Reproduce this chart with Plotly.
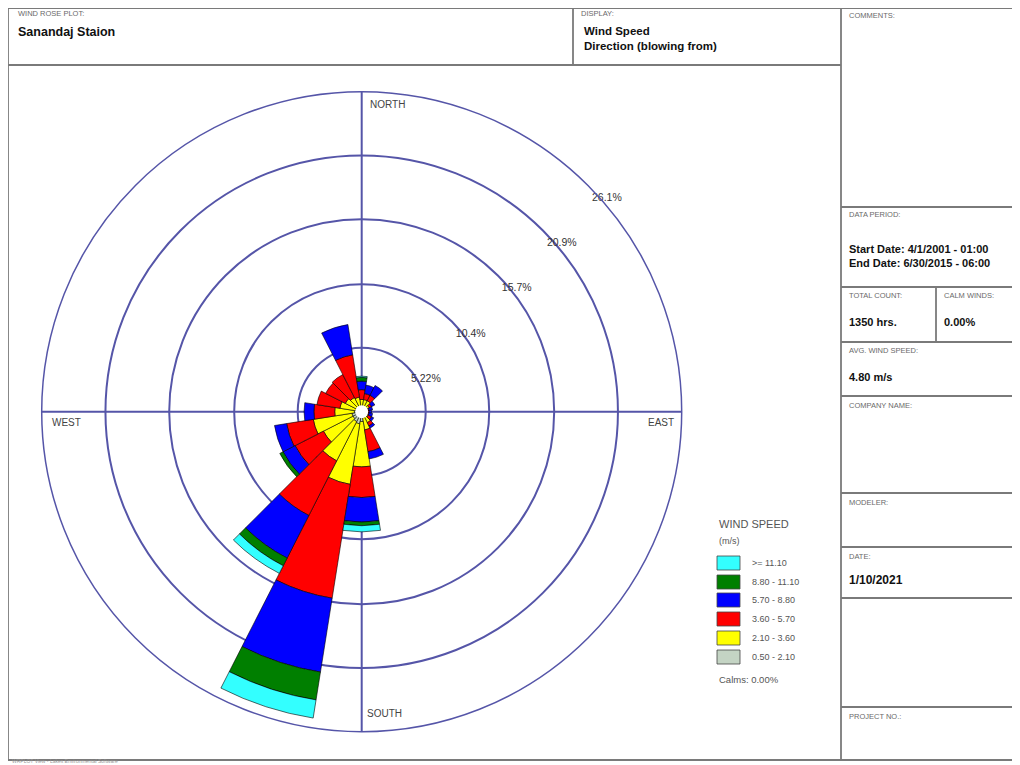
import math
import plotly.graph_objects as go

W, H = 1020, 765
OFF = 8  # page margin of the browser body, in pixels

# ---------------- data ----------------
directions = [0, 18, 36, 54, 72, 90, 108, 126, 144, 162,
              180, 198, 216, 234, 252, 270, 288, 306, 324, 342]

bin_labels = ["0.50 - 2.10", "2.10 - 3.60", "3.60 - 5.70",
              "5.70 - 8.80", "8.80 - 11.10", ">= 11.10"]
bin_colors = ["#C4D4C4", "#FFFF00", "#FF0000", "#0000FF", "#007F00", "#33FFFF"]

# frequency (%) per direction for each speed class
freq_050_210 = [0.4, 0.4, 0.4, 0.3, 0.3, 0.3, 0.3, 0.3, 0.4, 0.5,
                0.8, 1.0, 0.9, 0.8, 0.8, 0.6, 0.5, 0.5, 0.4, 0.4]
freq_210_360 = [0.6, 0.6, 0.6, 0.4, 0.2, 0.2, 0.2, 0.3, 0.6, 1.0,
                3.7, 5.0, 3.6, 2.7, 3.2, 1.6, 1.3, 1.0, 0.9, 0.8]
freq_360_570 = [0.8, 0.5, 0.5, 0.2, 0.1, 0.1, 0.1, 0.3, 0.3, 1.8,
                2.5, 9.4, 5.0, 2.6, 2.2, 1.7, 1.9, 1.8, 2.1, 3.5]
freq_570_880 = [0.7, 0.7, 0.9, 0.3, 0.3, 0.2, 0.3, 0.2, 0.2, 0.6,
                2.0, 6.1, 3.9, 1.1, 1.0, 0.8, 0.0, 0.0, 0.0, 2.5]
freq_880_1110 = [0.3, 0.0, 0.0, 0.0, 0.0, 0.0, 0.0, 0.0, 0.0, 0.0,
                 0.3, 2.3, 0.7, 0.3, 0.0, 0.0, 0.0, 0.0, 0.0, 0.0]
freq_ge_1110 = [0.1, 0.0, 0.0, 0.0, 0.0, 0.0, 0.0, 0.0, 0.0, 0.0,
                0.5, 1.5, 0.7, 0.0, 0.0, 0.0, 0.0, 0.0, 0.0, 0.0]

ring_values = [5.22, 10.4, 15.7, 20.9, 26.1]
ring_labels = ["5.22%", "10.4%", "15.7%", "20.9%", "26.1%"]

series = [freq_050_210, freq_210_360, freq_360_570,
          freq_570_880, freq_880_1110, freq_ge_1110]

# ---------------- figure ----------------
GRID = "#5555A8"
FONT = "Liberation Sans, Arial, sans-serif"
RMAX = ring_values[-1]

fig = go.Figure()
for vals, name, col in zip(series, bin_labels, bin_colors):
    fig.add_trace(go.Barpolar(
        r=vals, theta=directions, width=18, name=name,
        marker=dict(color=col, line=dict(color="#000000", width=0.6)),
        showlegend=False, hoverinfo="skip"))

# calm circle at the centre
fig.add_trace(go.Scatterpolar(
    r=[0], theta=[0], mode="markers",
    marker=dict(color="white", size=13, line=dict(width=0)),
    showlegend=False, hoverinfo="skip"))

# geometry of the rose on the page (screen pixels)
cx, cy, R = 361.7 - OFF, 411.7 - OFF, 320.0
scale = R / RMAX  # px per percent

# ring labels: just outside each ring on the NE diagonal, shifted down a little
lab_r, lab_t = [], []
for v in ring_values:
    rp = v * scale
    x = rp * math.sin(math.radians(45)) + 4
    y = rp * math.cos(math.radians(45)) - 13
    lab_r.append(math.hypot(x, y) / scale)
    lab_t.append(math.degrees(math.atan2(x, y)))
fig.add_trace(go.Scatterpolar(
    r=lab_r, theta=lab_t, mode="text",
    text=ring_labels, textposition="middle right",
    textfont=dict(size=10.5, color="#333333", family=FONT),
    showlegend=False, hoverinfo="skip"))

fig.update_layout(
    width=W, height=H, autosize=False,
    margin=dict(l=0, r=0, t=0, b=0),
    paper_bgcolor="white", plot_bgcolor="white",
    font=dict(family=FONT, color="#222222"),
    polar=dict(
        domain=dict(x=[(cx - R) / W, (cx + R) / W],
                    y=[1 - (cy + R) / H, 1 - (cy - R) / H]),
        bgcolor="rgba(0,0,0,0)",
        barmode="stack",
        radialaxis=dict(range=[0, RMAX], tickvals=ring_values,
                        showticklabels=False, ticks="", showline=False,
                        gridcolor=GRID, gridwidth=1.5),
        angularaxis=dict(rotation=90, direction="clockwise",
                         tickvals=[0, 90, 180, 270], showticklabels=False,
                         ticks="", showline=True, linecolor=GRID, linewidth=1.5,
                         gridcolor=GRID, gridwidth=1.5),
    ),
)

# ---------------- page frame ----------------
LINE = "#7A7A7A"
shapes = []


def px(x):
    return (x - OFF) / W


def py(y):
    return 1 - (y - OFF) / H


def hline(y, x0, x1):
    shapes.append(dict(type="line", xref="paper", yref="paper",
                       x0=px(x0), x1=px(x1), y0=py(y), y1=py(y),
                       line=dict(color=LINE, width=1.8)))


def vline(x, y0, y1):
    shapes.append(dict(type="line", xref="paper", yref="paper",
                       x0=px(x), x1=px(x), y0=py(y0), y1=py(y1),
                       line=dict(color=LINE, width=1.8)))


hline(8, 7, 1030)
hline(760, 7, 1030)
vline(8, 8, 760)
hline(65, 8, 841)
vline(573, 8, 65)
vline(841, 8, 760)
for yy in [207, 287, 342, 396, 493, 547, 598, 707]:
    hline(yy, 841, 1030)
vline(936, 287, 342)

# legend swatches
leg_x0, leg_x1 = 717, 740
leg_rows = [563, 582, 600, 619, 638, 657]
leg_order = list(range(len(bin_labels)))[::-1]
for yy, i in zip(leg_rows, leg_order):
    shapes.append(dict(type="rect", xref="paper", yref="paper",
                       x0=px(leg_x0), x1=px(leg_x1),
                       y0=py(yy + 7), y1=py(yy - 7),
                       fillcolor=bin_colors[i],
                       line=dict(color="#444444", width=0.8)))

annotations = []


def txt(x, y, s, size=6, bold=False, color="#333333", anchor="left"):
    annotations.append(dict(
        xref="paper", yref="paper", x=px(x), y=py(y),
        text=f"<b>{s}</b>" if bold else s, showarrow=False,
        xanchor=anchor, yanchor="middle",
        font=dict(size=size, color=color, family=FONT)))


CAP = 7.5
CAPC = "#6A6A6A"
VAL = "#111111"

# header
txt(16, 14, "WIND ROSE PLOT:", CAP, color=CAPC)
txt(16, 32, "Sanandaj Staion", 12.5, True, VAL)
txt(579, 14, "DISPLAY:", CAP, color=CAPC)
txt(582, 31, "Wind Speed", 11.5, True, VAL)
txt(582, 46, "Direction (blowing from)", 11.5, True, VAL)
txt(847, 16, "COMMENTS:", CAP, color=CAPC)

# right panel
txt(847, 215, "DATA PERIOD:", CAP, color=CAPC)
txt(847, 249, "Start Date: 4/1/2001 - 01:00", 11, True, VAL)
txt(847, 263, "End Date: 6/30/2015 - 06:00", 11, True, VAL)
txt(847, 295, "TOTAL COUNT:", CAP, color=CAPC)
txt(847, 322, "1350 hrs.", 11, True, VAL)
txt(942, 295, "CALM WINDS:", CAP, color=CAPC)
txt(942, 322, "0.00%", 11, True, VAL)
txt(847, 350, "AVG. WIND SPEED:", CAP, color=CAPC)
txt(847, 377, "4.80 m/s", 11, True, VAL)
txt(847, 405, "COMPANY NAME:", CAP, color=CAPC)
txt(847, 502, "MODELER:", CAP, color=CAPC)
txt(847, 556, "DATE:", CAP, color=CAPC)
txt(847, 580, "1/10/2021", 12, True, VAL)
txt(847, 716, "PROJECT NO.:", CAP, color=CAPC)

# compass labels
txt(387, 104, "NORTH", 10, color="#444444", anchor="center")
txt(384, 713, "SOUTH", 10, color="#444444", anchor="center")
txt(66, 423, "WEST", 10, color="#444444", anchor="center")
txt(661, 423, "EAST", 10, color="#444444", anchor="center")

# legend texts
txt(717, 524, "WIND SPEED", 11, color="#555555")
txt(717, 541, "(m/s)", 9, color="#555555")
for yy, i in zip(leg_rows, leg_order):
    txt(750, yy, bin_labels[i], 9, color="#555555")
txt(717, 679, "Calms: 0.00%", 9.5, color="#555555")

txt(10, 761, "WRPLOT View - Lakes Environmental Software", 5, color="#999999")

fig.update_layout(shapes=shapes, annotations=annotations)
fig.write_html("out.html")
